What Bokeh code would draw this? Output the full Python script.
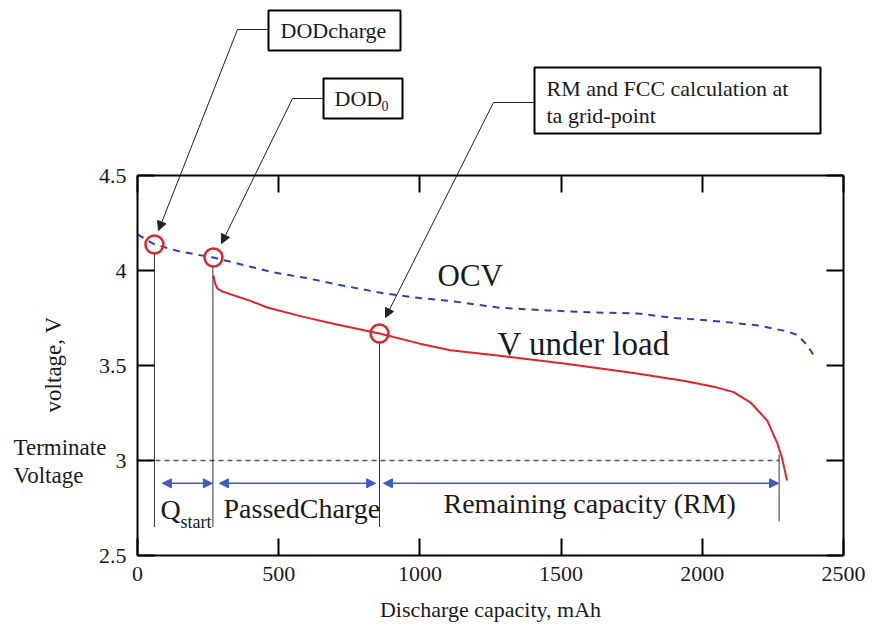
from bokeh.plotting import figure
from bokeh.models import (Label, Arrow, NormalHead, BoxAnnotation, LinearAxis,
                          FixedTicker, Range1d)
from bokeh.embed import file_html
from bokeh.resources import INLINE
import math

# ---------------- data ----------------
ocv_x = [0, 60, 150, 269, 400, 482, 600, 694, 800, 871, 1000, 1108, 1275, 1452,
         1600, 1771, 1900, 2000, 2100, 2200, 2300, 2337, 2370, 2400]
ocv_v = [4.19, 4.137, 4.10, 4.068, 4.02, 3.99, 3.96, 3.93, 3.90, 3.88, 3.855, 3.84,
         3.805, 3.79, 3.78, 3.774, 3.75, 3.74, 3.726, 3.71, 3.68, 3.66, 3.61, 3.54]

load_x = [269, 275, 283, 300, 319, 400, 460, 577, 694, 857, 1000, 1108, 1275, 1510,
          1640, 1757, 1933, 2050, 2111, 2171, 2230, 2266, 2283, 2300]
load_v = [3.974, 3.93, 3.905, 3.89, 3.88, 3.84, 3.805, 3.76, 3.72, 3.668, 3.615, 3.58,
          3.553, 3.51, 3.484, 3.46, 3.42, 3.385, 3.36, 3.305, 3.21, 3.09, 3.01, 2.895]

marker_x = [60, 269, 857]          # DODcharge, DOD0, RM/FCC grid point
marker_v = [4.137, 4.068, 3.668]

boundary_x = [60, 267, 857, 2272]   # Q_start | PassedCharge | RM boundaries
boundary_top = [4.09, 4.02, 3.62, 3.03]
boundary_bottom = [2.65, 2.65, 2.65, 2.68]

span_start = [88, 290, 871]         # double arrows (mAh)
span_end = [265, 843, 2270]

terminate_v = 3.0
arrow_v = 2.88

x_ticks = [0, 500, 1000, 1500, 2000, 2500]
y_ticks = [2.5, 3, 3.5, 4, 4.5]
y_tick_labels = ["2.5", "3", "3.5", "4", "4.5"]

# ---------------- layout ----------------
W, H = 870, 624
PX_LEFT, PX_RIGHT, PX_TOP, PX_BOTTOM = 137, 843, 175, 555
X_MIN, X_MAX, Y_MIN, Y_MAX = 0, 2500, 2.5, 4.5
SX = (X_MAX - X_MIN) / (PX_RIGHT - PX_LEFT)
SY = (Y_MAX - Y_MIN) / (PX_BOTTOM - PX_TOP)

FONT = "Liberation Serif"
RED = "#e3232b"
BLUE = "#2f3fb5"
ARROW_BLUE = "#3d5cc4"
INK = "#1a1a1a"

p = figure(width=W, height=H,
           x_range=Range1d(X_MIN - PX_LEFT * SX, X_MAX + (W - PX_RIGHT) * SX),
           y_range=Range1d(Y_MIN - (H - PX_BOTTOM) * SY, Y_MAX + PX_TOP * SY),
           x_axis_location=None, y_axis_location=None,
           output_backend="svg", toolbar_location=None, min_border=0)
p.min_border_left = p.min_border_right = p.min_border_top = p.min_border_bottom = 0
p.xgrid.visible = False
p.ygrid.visible = False
p.outline_line_color = None
p.background_fill_color = "white"
p.border_fill_color = "white"


def frame_axis(ax, labels):
    ax.axis_line_width = 2
    ax.axis_line_color = "black"
    ax.major_tick_line_width = 2
    ax.major_tick_line_color = "black"
    ax.major_tick_in = 17
    ax.major_tick_out = 0
    ax.minor_tick_line_color = None
    ax.major_label_text_font = FONT
    ax.major_label_text_font_size = "22px"
    ax.major_label_text_color = INK
    if not labels:
        ax.major_label_overrides = {t: "" for t in ax.ticker.ticks}


x_bottom = LinearAxis(fixed_location=Y_MIN, bounds=(X_MIN, X_MAX), ticker=FixedTicker(ticks=x_ticks))
frame_axis(x_bottom, True)
x_bottom.major_label_standoff = 11
p.add_layout(x_bottom, "below")

y_left = LinearAxis(fixed_location=X_MIN, bounds=(Y_MIN, Y_MAX), ticker=FixedTicker(ticks=y_ticks))
frame_axis(y_left, True)
y_left.major_label_overrides = dict(zip(y_ticks, y_tick_labels))
y_left.major_label_standoff = 11
p.add_layout(y_left, "left")

x_top = LinearAxis(fixed_location=Y_MAX, bounds=(X_MIN, X_MAX), ticker=FixedTicker(ticks=x_ticks))
frame_axis(x_top, False)
p.add_layout(x_top, "above")

y_right = LinearAxis(fixed_location=X_MAX, bounds=(Y_MIN, Y_MAX), ticker=FixedTicker(ticks=y_ticks))
frame_axis(y_right, False)
p.add_layout(y_right, "right")

# ---------------- marks ----------------
p.line(ocv_x, ocv_v, line_color=BLUE, line_width=2, line_dash="7 6")
p.line(load_x, load_v, line_color=RED, line_width=2)

p.line([X_MIN, boundary_x[-1]], [terminate_v, terminate_v], line_color="#555555",
       line_width=1.5, line_dash="5 4")

p.segment(x0=boundary_x, y0=boundary_bottom, x1=boundary_x, y1=boundary_top,
          line_color="#333333", line_width=1)

p.scatter(marker_x, marker_v, marker="circle", size=18, fill_alpha=0,
          line_color=RED, line_width=2.5)

for a, b in zip(span_start, span_end):
    p.add_layout(Arrow(start=NormalHead(size=9, fill_color=ARROW_BLUE, line_color=ARROW_BLUE),
                       end=NormalHead(size=9, fill_color=ARROW_BLUE, line_color=ARROW_BLUE),
                       x_start=a, y_start=arrow_v, x_end=b, y_end=arrow_v,
                       line_color=ARROW_BLUE, line_width=1.5))


def px_x(px):
    return X_MIN + (px - PX_LEFT) * SX


def px_y(py):
    return Y_MAX - (py - PX_TOP) * SY


def txt(x, y, s, size, align="left", angle=0.0):
    p.add_layout(Label(x=x, y=y, text=s, text_font=FONT, text_font_size=size,
                       text_baseline="middle", text_align=align, text_color=INK,
                       angle=angle))


# axis titles (positions are vertical text centres)
txt(px_x(490), px_y(609), "Discharge capacity, mAh", "22px", align="center")
txt(px_x(53), px_y(364), "voltage, V", "23px", align="center", angle=math.pi / 2)
txt(px_x(13), px_y(447), "Terminate", "23px")
txt(px_x(13), px_y(475), "Voltage", "23px")

# segment labels
txt(px_x(160), px_y(509), "Q", "28px")
txt(px_x(180), px_y(521), "start", "18px")
txt(px_x(223), px_y(508), "PassedCharge", "28px")
txt(px_x(443), px_y(503), "Remaining capacity (RM)", "28px")
txt(px_x(437), px_y(275), "OCV", "31px")
txt(px_x(497), px_y(343), "V under load", "33px")

# callout boxes (left, right, top, bottom in pixels of the reference layout)
boxes = [(268, 400, 10, 50), (323, 402, 78, 118), (534, 820, 67, 133)]
for l, r, t, b in boxes:
    p.add_layout(BoxAnnotation(left=px_x(l), right=px_x(r), top=px_y(t), bottom=px_y(b),
                               fill_color="white", fill_alpha=1, line_color="black",
                               line_width=2, line_alpha=1))
txt(px_x(280), px_y(30), "DODcharge", "22px")
txt(px_x(334), px_y(98), "DOD", "22px")
txt(px_x(381), px_y(105), "0", "14px")
txt(px_x(546), px_y(88), "RM and FCC calculation at", "22px")
txt(px_x(546), px_y(115), "ta grid-point", "22px")

# leader lines: box edge -> elbow -> arrow tip at the marker
leaders = [((268, 29), (237, 29), (158, 230)),
           ((323, 98), (292, 98), (221, 243)),
           ((534, 102), (493, 102), (385, 317))]
for (xa, ya), (xb, yb), (xc, yc) in leaders:
    p.add_layout(Arrow(end=None, x_start=px_x(xa), y_start=px_y(ya),
                       x_end=px_x(xb), y_end=px_y(yb), line_color="#222222", line_width=1))
    p.add_layout(Arrow(end=NormalHead(size=9, fill_color="#222222", line_color="#222222"),
                       x_start=px_x(xb), y_start=px_y(yb), x_end=px_x(xc), y_end=px_y(yc),
                       line_color="#222222", line_width=1))

open("out.html", "w").write(file_html(p, INLINE))
